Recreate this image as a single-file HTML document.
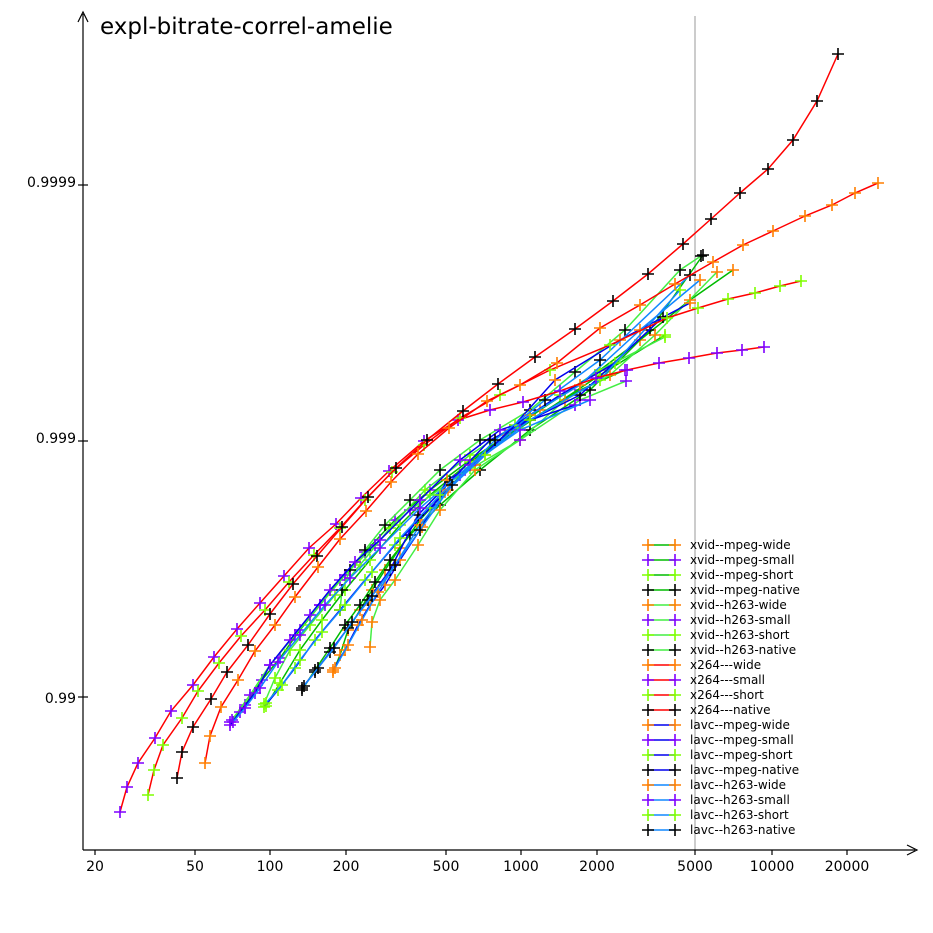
<!DOCTYPE html>
<html><head><meta charset="utf-8"><style>
html,body{margin:0;padding:0;background:#fff}
svg{display:block;font-family:"DejaVu Sans","Liberation Sans",sans-serif}
</style></head><body>
<svg width="933" height="933" viewBox="0 0 933 933" xmlns="http://www.w3.org/2000/svg">
<defs>
<marker id="mo" markerUnits="userSpaceOnUse" markerWidth="14" markerHeight="14" refX="7" refY="7" overflow="visible"><path d="M1,7H13M7,1V13" stroke="#ff7f00" stroke-width="1.6"/></marker>
<marker id="mp" markerUnits="userSpaceOnUse" markerWidth="14" markerHeight="14" refX="7" refY="7" overflow="visible"><path d="M1,7H13M7,1V13" stroke="#7f00ff" stroke-width="1.6"/></marker>
<marker id="ml" markerUnits="userSpaceOnUse" markerWidth="14" markerHeight="14" refX="7" refY="7" overflow="visible"><path d="M1,7H13M7,1V13" stroke="#7fff00" stroke-width="1.6"/></marker>
<marker id="mk" markerUnits="userSpaceOnUse" markerWidth="14" markerHeight="14" refX="7" refY="7" overflow="visible"><path d="M1,7H13M7,1V13" stroke="#000" stroke-width="1.6"/></marker>
</defs>
<line x1="695" y1="16" x2="695" y2="850" stroke="#bbb" stroke-width="1.5"/>
<g stroke="#000" stroke-width="1.2" fill="none">
<line x1="83" y1="850" x2="83" y2="14"/>
<path d="M78,22 L83,12 L88,22"/>
<line x1="83" y1="850" x2="915" y2="850"/>
<path d="M907,845 L917,850 L907,855"/>
<line x1="95" y1="850" x2="95" y2="855"/><line x1="195" y1="850" x2="195" y2="855"/>
<line x1="270" y1="850" x2="270" y2="855"/><line x1="346" y1="850" x2="346" y2="855"/>
<line x1="446" y1="850" x2="446" y2="855"/><line x1="521" y1="850" x2="521" y2="855"/>
<line x1="597" y1="850" x2="597" y2="855"/><line x1="695" y1="850" x2="695" y2="855"/>
<line x1="772" y1="850" x2="772" y2="855"/><line x1="847" y1="850" x2="847" y2="855"/>
<line x1="78" y1="185" x2="88" y2="185"/><line x1="78" y1="441" x2="88" y2="441"/><line x1="78" y1="697" x2="88" y2="697"/>
</g>
<g font-size="14" text-anchor="middle" fill="#000">
<text x="95" y="871">20</text><text x="195" y="871">50</text><text x="270" y="871">100</text>
<text x="346" y="871">200</text><text x="446" y="871">500</text><text x="521" y="871">1000</text>
<text x="597" y="871">2000</text><text x="695" y="871">5000</text><text x="772" y="871">10000</text>
<text x="847" y="871">20000</text>
</g>
<g font-size="14" text-anchor="end"><text x="76" y="187">0.9999</text><text x="76" y="443">0.999</text><text x="76" y="703">0.99</text></g>
<text x="100" y="34" font-size="23">expl-bitrate-correl-amelie</text>

<g fill="none" stroke-width="1.5">
<polyline stroke="#00bb00" marker-start="url(#mo)" marker-mid="url(#mo)" marker-end="url(#mo)" points="333,672 340,655 348,630 360,610 372,590 385,570 400,548 420,520 445,492 470,465 505,435 540,410 600,370 640,340 690,300 733,270"/>
<polyline stroke="#00bb00" marker-start="url(#mp)" marker-mid="url(#mp)" marker-end="url(#mp)" points="230,722 245,705 262,680 280,658 300,630 320,605 340,580 365,552 395,520 430,490 470,460 530,420 580,390 625,370"/>
<polyline stroke="#00bb00" marker-start="url(#ml)" marker-mid="url(#ml)" marker-end="url(#ml)" points="266,706 280,683 300,650 322,620 345,590 370,560 400,525 430,495 470,462 520,428 600,375 665,335"/>
<polyline stroke="#00bb00" marker-start="url(#mk)" marker-mid="url(#mk)" marker-end="url(#mk)" points="302,690 315,670 330,648 345,625 360,605 375,582 390,560 410,535 440,505 480,470 530,430 590,390 650,330 703,255"/>
<polyline stroke="#44ee44" marker-start="url(#mo)" marker-mid="url(#mo)" marker-end="url(#mo)" points="370,647 372,622 380,600 395,580 418,545 440,510 475,470 520,440 565,400 610,375 655,335 717,272"/>
<polyline stroke="#44ee44" marker-start="url(#mp)" marker-mid="url(#mp)" marker-end="url(#mp)" points="232,720 250,695 270,665 295,635 320,605 345,575 375,545 410,510 460,475 520,440 580,400 626,381"/>
<polyline stroke="#44ee44" marker-start="url(#ml)" marker-mid="url(#ml)" marker-end="url(#ml)" points="264,704 275,678 290,650 310,625 335,595 360,565 390,528 425,490 470,455 530,415 600,370 665,337"/>
<polyline stroke="#44ee44" marker-start="url(#mk)" marker-mid="url(#mk)" marker-end="url(#mk)" points="340,610 342,590 350,570 365,550 385,525 410,500 440,470 480,440 530,410 575,372 625,330 680,270 701,256"/>
<polyline stroke="#0000ee" marker-start="url(#mo)" marker-mid="url(#mo)" marker-end="url(#mo)" points="333,670 345,650 358,625 370,605 385,585 400,560 422,527 447,480 475,465 510,430 555,380 620,340 690,303"/>
<polyline stroke="#0000ee" marker-start="url(#mp)" marker-mid="url(#mp)" marker-end="url(#mp)" points="230,725 240,712 255,693 270,665 290,640 310,615 330,590 355,562 380,540 420,500 460,460 500,430 575,405"/>
<polyline stroke="#0000ee" marker-start="url(#ml)" marker-mid="url(#ml)" marker-end="url(#ml)" points="264,707 278,690 295,668 315,640 340,610 365,580 395,545 430,508 470,468 515,425 560,395 615,363"/>
<polyline stroke="#0000ee" marker-start="url(#mk)" marker-mid="url(#mk)" marker-end="url(#mk)" points="302,688 315,672 330,652 348,628 368,600 390,570 418,515 450,482 490,440 530,420 580,395 663,317"/>
<polyline stroke="#1188ff" marker-start="url(#mo)" marker-mid="url(#mo)" marker-end="url(#mo)" points="335,668 348,645 362,620 378,592 395,565 420,525 448,490 485,455 530,415 580,385 640,330 700,280"/>
<polyline stroke="#1188ff" marker-start="url(#mp)" marker-mid="url(#mp)" marker-end="url(#mp)" points="233,722 245,708 260,688 278,662 300,635 325,605 350,578 380,548 420,508 470,465 520,430 590,400"/>
<polyline stroke="#1188ff" marker-start="url(#ml)" marker-mid="url(#ml)" marker-end="url(#ml)" points="266,703 282,685 300,660 322,632 345,605 372,572 400,538 440,495 485,455 530,420 600,380 680,290"/>
<polyline stroke="#1188ff" marker-start="url(#mk)" marker-mid="url(#mk)" marker-end="url(#mk)" points="304,686 318,668 334,648 352,622 372,596 395,565 420,530 452,485 495,440 545,400 600,360 690,275"/>
<polyline stroke="#ff0000" marker-start="url(#mp)" marker-mid="url(#mp)" marker-end="url(#mp)" points="120,812 127,787 138,763 155,738 171,711 193,685 214,657 237,629 260,603 284,576 309,548 336,524 361,498 389,471 424,441 458,420 490,410 523,402 560,391 596,378 627,370 659,363 689,358 717,353 742,350 764,347"/>
<polyline stroke="#ff0000" marker-start="url(#ml)" marker-mid="url(#ml)" marker-end="url(#ml)" points="148,795 154,770 163,745 182,718 198,691 219,663 241,636 265,610 289,582 314,555 340,528 365,500 392,472 424,445 460,418 500,395 550,370 610,345 667,318 698,308 728,299 755,293 780,286 801,281"/>
<polyline stroke="#ff0000" marker-start="url(#mk)" marker-mid="url(#mk)" marker-end="url(#mk)" points="177,778 182,752 193,727 211,699 227,672 248,645 270,614 293,584 317,556 342,527 368,497 396,468 427,440 463,411 498,384 535,357 575,329 613,301 648,274 683,244 711,219 740,193 768,169 793,140 817,101 838,54"/>
<polyline stroke="#ff0000" marker-start="url(#mo)" marker-mid="url(#mo)" marker-end="url(#mo)" points="205,763 210,736 221,707 238,680 255,651 275,625 295,597 318,567 340,539 366,511 391,482 418,454 449,428 487,401 520,385 557,363 600,328 640,305 675,284 713,262 743,245 773,231 805,216 832,205 855,193 878,183"/>
</g>

<g stroke-width="1.5" fill="none">
<polyline stroke="#00bb00" marker-start="url(#mo)" marker-end="url(#mo)" points="648,545 675,545"/>
<polyline stroke="#00bb00" marker-start="url(#mp)" marker-end="url(#mp)" points="648,560 675,560"/>
<polyline stroke="#00bb00" marker-start="url(#ml)" marker-end="url(#ml)" points="648,575 675,575"/>
<polyline stroke="#00bb00" marker-start="url(#mk)" marker-end="url(#mk)" points="648,590 675,590"/>
<polyline stroke="#44ee44" marker-start="url(#mo)" marker-end="url(#mo)" points="648,605 675,605"/>
<polyline stroke="#44ee44" marker-start="url(#mp)" marker-end="url(#mp)" points="648,620 675,620"/>
<polyline stroke="#44ee44" marker-start="url(#ml)" marker-end="url(#ml)" points="648,635 675,635"/>
<polyline stroke="#44ee44" marker-start="url(#mk)" marker-end="url(#mk)" points="648,650 675,650"/>
<polyline stroke="#ff0000" marker-start="url(#mo)" marker-end="url(#mo)" points="648,665 675,665"/>
<polyline stroke="#ff0000" marker-start="url(#mp)" marker-end="url(#mp)" points="648,680 675,680"/>
<polyline stroke="#ff0000" marker-start="url(#ml)" marker-end="url(#ml)" points="648,695 675,695"/>
<polyline stroke="#ff0000" marker-start="url(#mk)" marker-end="url(#mk)" points="648,710 675,710"/>
<polyline stroke="#0000ee" marker-start="url(#mo)" marker-end="url(#mo)" points="648,725 675,725"/>
<polyline stroke="#0000ee" marker-start="url(#mp)" marker-end="url(#mp)" points="648,740 675,740"/>
<polyline stroke="#0000ee" marker-start="url(#ml)" marker-end="url(#ml)" points="648,755 675,755"/>
<polyline stroke="#0000ee" marker-start="url(#mk)" marker-end="url(#mk)" points="648,770 675,770"/>
<polyline stroke="#1188ff" marker-start="url(#mo)" marker-end="url(#mo)" points="648,785 675,785"/>
<polyline stroke="#1188ff" marker-start="url(#mp)" marker-end="url(#mp)" points="648,800 675,800"/>
<polyline stroke="#1188ff" marker-start="url(#ml)" marker-end="url(#ml)" points="648,815 675,815"/>
<polyline stroke="#1188ff" marker-start="url(#mk)" marker-end="url(#mk)" points="648,830 675,830"/>
</g>
<g font-size="12" fill="#000">
<text x="690" y="549">xvid--mpeg-wide</text>
<text x="690" y="564">xvid--mpeg-small</text>
<text x="690" y="579">xvid--mpeg-short</text>
<text x="690" y="594">xvid--mpeg-native</text>
<text x="690" y="609">xvid--h263-wide</text>
<text x="690" y="624">xvid--h263-small</text>
<text x="690" y="639">xvid--h263-short</text>
<text x="690" y="654">xvid--h263-native</text>
<text x="690" y="669">x264---wide</text>
<text x="690" y="684">x264---small</text>
<text x="690" y="699">x264---short</text>
<text x="690" y="714">x264---native</text>
<text x="690" y="729">lavc--mpeg-wide</text>
<text x="690" y="744">lavc--mpeg-small</text>
<text x="690" y="759">lavc--mpeg-short</text>
<text x="690" y="774">lavc--mpeg-native</text>
<text x="690" y="789">lavc--h263-wide</text>
<text x="690" y="804">lavc--h263-small</text>
<text x="690" y="819">lavc--h263-short</text>
<text x="690" y="834">lavc--h263-native</text>
</g>
</svg>
</body></html>
